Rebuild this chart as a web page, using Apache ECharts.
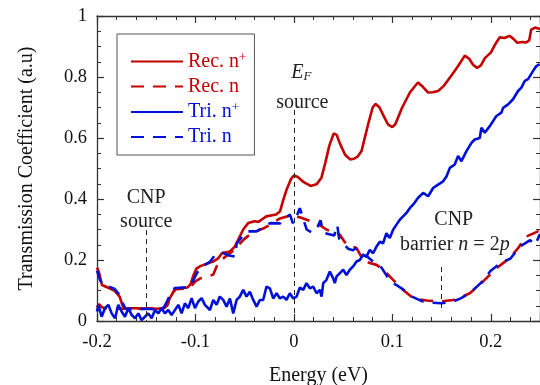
<!DOCTYPE html>
<html><head><meta charset="utf-8">
<script src="https://cdn.jsdelivr.net/npm/echarts@6/dist/echarts.min.js"></script>
<style>html,body{margin:0;padding:0;background:#fff}#c{width:540px;height:385px}</style>
</head><body><div id="c"></div>
<script>
// ---- data (Energy eV, Transmission a.u.) ----
var xTicks = [-0.2, -0.1, 0, 0.1, 0.2];
var yTicks = [0, 0.2, 0.4, 0.6, 0.8, 1];
var seriesNames = ['Rec. n+', 'Rec. n', 'Tri. n+', 'Tri. n'];

var recNplus = [[-0.2,0.175],[-0.198,0.16],[-0.195,0.118],[-0.188,0.108],[-0.182,0.099],[-0.177,0.08],[-0.174,0.05],[-0.172,0.042],[-0.16,0.042],[-0.15,0.04],[-0.145,0.042],[-0.14,0.04],[-0.132,0.042],[-0.129,0.05],[-0.126,0.075],[-0.121,0.104],[-0.114,0.108],[-0.108,0.11],[-0.105,0.12],[-0.102,0.15],[-0.099,0.172],[-0.095,0.18],[-0.09,0.186],[-0.082,0.195],[-0.077,0.205],[-0.073,0.223],[-0.065,0.228],[-0.06,0.244],[-0.055,0.277],[-0.0515,0.30],[-0.0464,0.321],[-0.04,0.327],[-0.036,0.325],[-0.033,0.332],[-0.028,0.343],[-0.018,0.349],[-0.014,0.36],[-0.011,0.395],[-0.0074,0.431],[-0.003,0.465],[0.0,0.477],[0.004,0.472],[0.01,0.455],[0.017,0.443],[0.023,0.448],[0.028,0.47],[0.032,0.52],[0.036,0.575],[0.0405,0.615],[0.0435,0.61],[0.047,0.58],[0.052,0.545],[0.057,0.53],[0.061,0.532],[0.065,0.54],[0.0687,0.557],[0.0754,0.645],[0.08,0.70],[0.083,0.712],[0.087,0.70],[0.0915,0.67],[0.0955,0.645],[0.1,0.636],[0.103,0.645],[0.11,0.70],[0.118,0.75],[0.126,0.782],[0.131,0.768],[0.1364,0.749],[0.141,0.75],[0.1465,0.754],[0.152,0.77],[0.16,0.805],[0.167,0.837],[0.1736,0.87],[0.178,0.86],[0.182,0.84],[0.186,0.83],[0.19,0.838],[0.194,0.862],[0.2,0.88],[0.205,0.91],[0.209,0.93],[0.214,0.928],[0.219,0.935],[0.223,0.925],[0.227,0.912],[0.232,0.915],[0.236,0.913],[0.239,0.92],[0.241,0.955],[0.245,0.962],[0.25,0.957]];

var recN = [[-0.2,0.045],[-0.198,0.055],[-0.195,0.045],[-0.19,0.04],[-0.18,0.04],[-0.17,0.04],[-0.16,0.04],[-0.15,0.04],[-0.14,0.042],[-0.132,0.042],[-0.128,0.055],[-0.124,0.09],[-0.12,0.104],[-0.112,0.106],[-0.106,0.108],[-0.1,0.13],[-0.095,0.14],[-0.088,0.145],[-0.082,0.152],[-0.077,0.19],[-0.07,0.21],[-0.062,0.23],[-0.056,0.25],[-0.05,0.27],[-0.044,0.285],[-0.038,0.294],[-0.03,0.305],[-0.024,0.316],[-0.015,0.335],[-0.008,0.342],[-0.003,0.345],[0.0,0.343],[0.006,0.34],[0.013,0.332],[0.023,0.321],[0.033,0.30],[0.04,0.29],[0.0467,0.283],[0.0535,0.25],[0.0637,0.239],[0.0703,0.2],[0.077,0.19],[0.084,0.184],[0.0907,0.168],[0.1008,0.135],[0.111,0.102],[0.121,0.075],[0.1347,0.067],[0.148,0.064],[0.162,0.069],[0.17,0.078],[0.1787,0.091],[0.192,0.129],[0.2058,0.173],[0.219,0.206],[0.228,0.24],[0.236,0.277],[0.248,0.294],[0.25,0.29]];

var triNplus = [[-0.2,0.031],[-0.1986,0.053],[-0.1953,0.014],[-0.1919,0.042],[-0.1885,0.053],[-0.1851,0.025],[-0.1817,0.009],[-0.1783,0.053],[-0.175,0.031],[-0.1716,0.014],[-0.1682,0.042],[-0.1648,0.02],[-0.1614,0.009],[-0.158,0.025],[-0.1547,0.003],[-0.1513,0.014],[-0.1479,0.025],[-0.1445,0.009],[-0.1411,0.036],[-0.1377,0.025],[-0.1344,0.042],[-0.131,0.025],[-0.1276,0.036],[-0.1242,0.02],[-0.1208,0.036],[-0.1174,0.053],[-0.1141,0.025],[-0.1107,0.058],[-0.1073,0.042],[-0.1039,0.075],[-0.1005,0.042],[-0.0971,0.064],[-0.0937,0.075],[-0.0904,0.053],[-0.0887,0.058],[-0.0853,0.036],[-0.0819,0.069],[-0.0785,0.053],[-0.0752,0.08],[-0.0718,0.069],[-0.0684,0.047],[-0.065,0.074],[-0.0616,0.025],[-0.0582,0.069],[-0.0549,0.08],[-0.0515,0.102],[-0.0481,0.08],[-0.0447,0.096],[-0.0413,0.069],[-0.0379,0.047],[-0.0346,0.069],[-0.0312,0.069],[-0.0278,0.113],[-0.0244,0.107],[-0.021,0.074],[-0.0176,0.091],[-0.0142,0.074],[-0.0109,0.08],[-0.0075,0.069],[-0.0041,0.091],[-0.0007,0.074],[0.0027,0.08],[0.0061,0.11],[0.0095,0.102],[0.0128,0.124],[0.0162,0.107],[0.0196,0.113],[0.023,0.091],[0.0264,0.102],[0.0281,0.08],[0.0298,0.124],[0.0331,0.135],[0.0365,0.162],[0.0399,0.14],[0.0416,0.124],[0.0433,0.146],[0.0467,0.157],[0.0501,0.168],[0.0534,0.151],[0.0568,0.168],[0.0602,0.179],[0.0636,0.195],[0.067,0.2],[0.0703,0.217],[0.0737,0.211],[0.0771,0.233],[0.0805,0.222],[0.0839,0.244],[0.0873,0.26],[0.0906,0.255],[0.094,0.288],[0.0974,0.272],[0.1008,0.299],[0.1042,0.316],[0.1076,0.332],[0.1109,0.343],[0.1143,0.354],[0.1177,0.37],[0.122,0.385],[0.1262,0.404],[0.1313,0.42],[0.1364,0.409],[0.1414,0.436],[0.1465,0.447],[0.1516,0.458],[0.155,0.474],[0.1584,0.502],[0.1634,0.513],[0.1668,0.541],[0.1702,0.524],[0.1753,0.557],[0.1804,0.584],[0.1837,0.595],[0.1888,0.6],[0.1905,0.634],[0.1939,0.617],[0.199,0.639],[0.2057,0.672],[0.2108,0.683],[0.2125,0.699],[0.2176,0.71],[0.2226,0.727],[0.2277,0.754],[0.2311,0.765],[0.2345,0.787],[0.2379,0.793],[0.243,0.82],[0.2463,0.836],[0.2497,0.842]];

var triN = [[-0.2,0.165],[-0.197,0.135],[-0.194,0.118],[-0.187,0.112],[-0.182,0.105],[-0.177,0.085],[-0.174,0.06],[-0.171,0.04],[-0.16,0.038],[-0.15,0.04],[-0.14,0.038],[-0.132,0.045],[-0.129,0.064],[-0.125,0.09],[-0.121,0.108],[-0.112,0.11],[-0.106,0.11],[-0.102,0.135],[-0.098,0.16],[-0.092,0.18],[-0.085,0.195],[-0.08,0.217],[-0.072,0.223],[-0.066,0.215],[-0.06,0.211],[-0.058,0.255],[-0.053,0.275],[-0.048,0.294],[-0.038,0.294],[-0.03,0.31],[-0.024,0.321],[-0.014,0.32],[-0.008,0.34],[-0.004,0.349],[-0.001,0.32],[0.003,0.345],[0.006,0.37],[0.009,0.34],[0.013,0.30],[0.018,0.29],[0.023,0.30],[0.027,0.33],[0.03,0.29],[0.035,0.285],[0.041,0.28],[0.044,0.315],[0.046,0.27],[0.05,0.255],[0.055,0.237],[0.06,0.232],[0.064,0.24],[0.068,0.22],[0.075,0.21],[0.082,0.19],[0.089,0.175],[0.097,0.135],[0.103,0.12],[0.109,0.108],[0.12,0.08],[0.13,0.065],[0.14,0.06],[0.15,0.058],[0.16,0.062],[0.17,0.075],[0.18,0.095],[0.19,0.125],[0.2,0.165],[0.21,0.19],[0.22,0.205],[0.23,0.245],[0.24,0.265],[0.245,0.25],[0.25,0.285]];

// annotation guide lines [energy, from, to]
var guides = [[-0.15, 0.298, 0], [0, 0.692, 0], [0.15, 0.177, 0.043]];

// ---- styling ----
var RED = '#c40000', BLUE = '#0010d8', AX = '#333';
var FF = '"Liberation Serif", "Times New Roman", serif';
var chart = echarts.init(document.getElementById('c'), null, {renderer: 'canvas'});

function mkAxisX(pos, labels) {
  return {
    type: 'value', position: pos, min: -0.2, max: 0.25, interval: 0.1,
    axisLine: {show: true, onZero: false, lineStyle: {color: AX, width: 1.3}},
    axisTick: {show: true, inside: true, length: 7, lineStyle: {color: AX, width: 1.2}},
    minorTick: {show: true, splitNumber: 5, length: 4, lineStyle: {color: AX, width: 1}},
    splitLine: {show: false},
    axisLabel: {show: labels, margin: 12, fontFamily: FF, fontSize: 18.5, color: '#111', showMaxLabel: false,
      formatter: function (v) { return xTicks.indexOf(Math.round(v * 10) / 10) >= 0 ? String(Math.round(v * 10) / 10) : ''; }},
    name: labels ? 'Energy (eV)' : '', nameLocation: 'middle', nameGap: 45,
    nameTextStyle: {fontFamily: FF, fontSize: 20, color: '#111'}
  };
}
function mkAxisY(pos, labels) {
  return {
    type: 'value', position: pos, min: 0, max: 1, interval: 0.2,
    axisLine: {show: true, onZero: false, lineStyle: {color: AX, width: 1.3}},
    axisTick: {show: true, inside: true, length: 7, lineStyle: {color: AX, width: 1.2}},
    minorTick: {show: true, splitNumber: 4, length: 4, lineStyle: {color: AX, width: 1}},
    splitLine: {show: false},
    axisLabel: {show: labels, margin: 10, fontFamily: FF, fontSize: 18.5, color: '#111',
      formatter: function (v) { return String(Math.round(v * 10) / 10); }},
    name: labels ? 'Transmission Coefficient (a.u)' : '', nameLocation: 'middle', nameGap: 60,
    nameTextStyle: {fontFamily: FF, fontSize: 20, color: '#111'}
  };
}

function lineSeries(name, data, color, dashed, z) {
  return {
    name: name, type: 'line', data: data, xAxisIndex: 0, yAxisIndex: 0,
    symbol: 'circle', symbolSize: 0, showSymbol: false, smooth: false, animation: false, z: z,
    emphasis: {disabled: true},
    lineStyle: {color: color, width: 2.6, type: dashed ? [13, 9] : 'solid'},
    itemStyle: {color: 'rgba(0,0,0,0)', borderWidth: 0}
  };
}

function ann(x, y, fmt, rich) {
  return {coord: [x, y], label: {show: true, position: 'inside', formatter: fmt,
    fontFamily: FF, fontSize: 20, color: '#222', lineHeight: 20, rich: rich || {}}};
}
var rich = {
  r: {fontFamily: FF, fontSize: 20, color: '#222'},
  i: {fontFamily: FF, fontSize: 20, fontStyle: 'italic', color: '#222'},
  e: {fontFamily: FF, fontSize: 20, fontStyle: 'italic', color: '#222'},
  f: {fontFamily: FF, fontSize: 13, fontStyle: 'italic', color: '#222', verticalAlign: 'bottom', padding: [10, 0, 0, 0]}
};

var guideSeries = {
  name: 'guides', type: 'line', data: [], symbol: 'none', silent: true, animation: false, z: 1,
  markLine: {silent: true, symbol: 'none', animation: false, label: {show: false},
    lineStyle: {color: '#222', width: 1, type: [5, 4]},
    data: guides.map(function (g) { return [{coord: [g[0], g[1]]}, {coord: [g[0], g[2]]}]; })},
  markPoint: {silent: true, symbol: 'circle', symbolSize: 1, animation: false,
    itemStyle: {color: 'rgba(0,0,0,0)'},
    data: [
      ann(-0.15, 0.403, 'CNP'),
      ann(-0.15, 0.326, 'source'),
      ann(0.0076, 0.813, '{e|E}{f|F}', rich),
      ann(0.0086, 0.716, 'source'),
      ann(0.1624, 0.333, 'CNP'),
      ann(0.1635, 0.25, '{r|barrier }{i|n}{r| = 2}{i|p}', rich)
    ]}
};

function legendFmt(name) {
  if (name.slice(-1) === '+') return '{t|' + name.slice(0, -1) + '}{s|+}';
  return '{t|' + name + '}';
}
function legItem(name, color) {
  return {name: name, textStyle: {color: color, rich: {
    t: {fontFamily: FF, fontSize: 20, color: color, lineHeight: 20},
    s: {fontFamily: FF, fontSize: 13, color: color, verticalAlign: 'top', padding: [0, 0, 8, 0]}}}};
}

chart.setOption({
  backgroundColor: '#fff',
  animation: false,
  grid: {left: 97, right: 0, top: 16, bottom: 64, containLabel: false, outerBoundsMode: 'none'},
  xAxis: [mkAxisX('bottom', true), mkAxisX('top', false)],
  yAxis: [mkAxisY('left', true), mkAxisY('right', false)],
  legend: {
    left: 117, top: 34, orient: 'vertical', selectedMode: false,
    itemWidth: 52, itemHeight: 14, itemGap: 5, padding: [17, 8, 8, 13],
    borderColor: '#555', borderWidth: 1,
    formatter: legendFmt,
    itemStyle: {color: 'rgba(0,0,0,0)', borderWidth: 0},
    textStyle: {fontFamily: FF, fontSize: 20},
    data: [legItem(seriesNames[0], RED), legItem(seriesNames[1], RED), legItem(seriesNames[2], BLUE), legItem(seriesNames[3], BLUE)]
  },
  series: [
    guideSeries,
    lineSeries(seriesNames[0], recNplus, RED, false, 2),
    lineSeries(seriesNames[1], recN, RED, true, 3),
    lineSeries(seriesNames[2], triNplus, BLUE, false, 4),
    lineSeries(seriesNames[3], triN, BLUE, true, 5)
  ]
});
</script></body></html>
